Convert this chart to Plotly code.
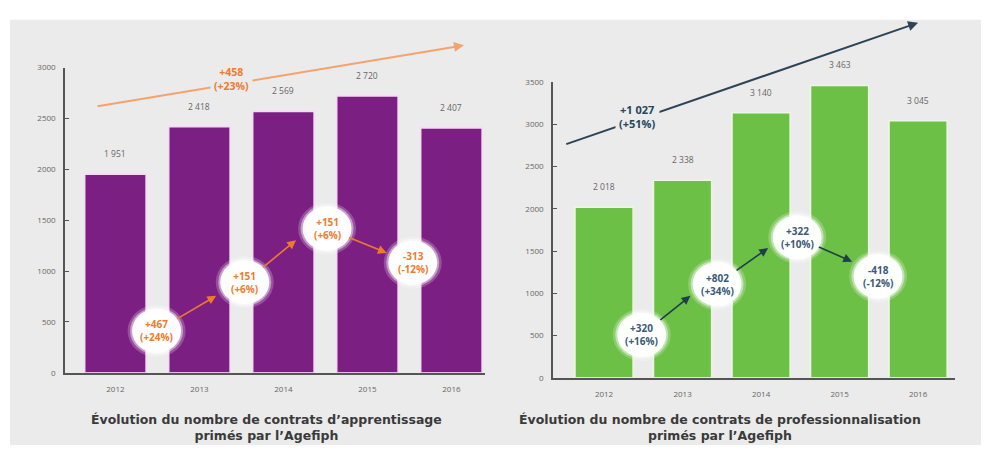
import plotly.graph_objects as go

# ---------------- data ----------------
years = ["2012", "2013", "2014", "2015", "2016"]
apprentissage = [1951, 2418, 2569, 2720, 2407]
professionnalisation = [2018, 2338, 3140, 3463, 3045]

appr_changes = ["+467<br>(+24%)", "+151<br>(+6%)", "+151<br>(+6%)", "-313<br>(-12%)"]
pro_changes = ["+320<br>(+16%)", "+802<br>(+34%)", "+322<br>(+10%)", "-418<br>(-12%)"]
appr_total = "+458<br>(+23%)"
pro_total = "+1 027<br>(+51%)"

left_yticks = [0, 500, 1000, 1500, 2000, 2500, 3000]
right_yticks = [0, 500, 1000, 1500, 2000, 2500, 3000, 3500]

title_left = "Évolution du nombre de contrats d’apprentissage<br>primés par l’Agefiph"
title_right = "Évolution du nombre de contrats de professionnalisation<br>primés par l’Agefiph"

# ---------------- styles ----------------
PURPLE = "#7b1f83"
GREEN = "#6cc046"
ORANGE = "#f07a2c"
ORANGE_LINE = "#f3a36c"
DARK = "#2c4455"
BG = "#ebebeb"
AXIS = "#555555"
FONT = "Open Sans"

OFF = 8            # browser body margin
W, H = 989 - OFF, 450 - OFF

def px(x):
    return (x - OFF) / W

def py(y):
    return (H - (y - OFF)) / H

def fmt(v):
    return f"{v:,}".replace(",", " ")

idx = list(range(len(years)))

fig = go.Figure()
fig.add_trace(go.Bar(x=idx, y=apprentissage, xaxis="x", yaxis="y",
                     marker=dict(color=PURPLE, line=dict(color="#f6d9f5", width=1.5)),
                     width=0.73, showlegend=False, hovertext=years, hoverinfo="text+y"))
fig.add_trace(go.Bar(x=idx, y=professionnalisation, xaxis="x2", yaxis="y2",
                     marker=dict(color=GREEN, line=dict(color="#eef7e4", width=1.5)),
                     width=0.74, showlegend=False, hovertext=years, hoverinfo="text+y"))

axis_common = dict(showgrid=False, zeroline=False, showline=True, linecolor=AXIS,
                   linewidth=1.5, tickfont=dict(family=FONT, size=8, color="#666"),
                   ticks="inside", ticklen=4, tickcolor=AXIS, ticklabelstandoff=6)
xaxis_common = {**axis_common, "ticks": "", "tickvals": idx, "ticktext": years,
                "ticklabelstandoff": 8}

fig.update_layout(
    width=W, height=H, autosize=False,
    margin=dict(l=0, r=0, t=0, b=0),
    paper_bgcolor="white", plot_bgcolor="rgba(0,0,0,0)",
    font=dict(family=FONT),
    xaxis=dict(domain=[px(65), px(485)], range=[-0.6, 4.4], anchor="y", **xaxis_common),
    yaxis=dict(domain=[py(376), py(63)], range=[0, 3000],
               tickvals=left_yticks, anchor="x", **axis_common),
    xaxis2=dict(domain=[px(553), px(955)], range=[-0.65, 4.47], anchor="y2", **xaxis_common),
    yaxis2=dict(domain=[py(381), py(78)], range=[0, 3500],
                tickvals=right_yticks, anchor="x2", **axis_common),
)

shapes = [dict(type="rect", xref="paper", yref="paper", x0=px(10), x1=1,
               y0=0, y1=py(14), fillcolor=BG, line=dict(width=0), layer="below")]
annotations = []

# value labels above bars
for xa, ya, vals in (("x", "y", apprentissage), ("x2", "y2", professionnalisation)):
    for i, v in zip(idx, vals):
        annotations.append(dict(x=i, y=v, xref=xa, yref=ya, text=fmt(v), showarrow=False,
                                yanchor="bottom", yshift=13,
                                font=dict(family=FONT, size=8.5, color="#666")))

def chain(xa, ya, bubbles, heads, texts, col, linecol):
    for i in range(len(bubbles) - 1):
        bx, by = bubbles[i]
        hx, hy = heads[i]
        annotations.append(dict(x=hx, y=hy, ax=bx, ay=by, xref=xa, yref=ya,
                                axref=xa, ayref=ya, showarrow=True, arrowhead=2,
                                arrowsize=1.1, arrowwidth=1.6, arrowcolor=linecol,
                                startstandoff=22, text=""))
    for (bx, by), t in zip(bubbles, texts):
        for sz, c in ((58, "rgba(255,255,255,0.22)"), (53, "rgba(255,255,255,0.45)"),
                      (49, "rgba(255,255,255,0.97)")):
            shapes.append(dict(type="circle", xref=xa, yref=ya,
                               xsizemode="pixel", ysizemode="pixel",
                               xanchor=bx, yanchor=by,
                               x0=-sz / 2, x1=sz / 2, y0=-sz * 0.45, y1=sz * 0.45,
                               fillcolor=c, line=dict(width=0), layer="above"))
        annotations.append(dict(x=bx, y=by, xref=xa, yref=ya, text="<b>" + t + "</b>",
                                showarrow=False,
                                font=dict(family=FONT, size=10, color=col)))

chain("x", "y",
      bubbles=[(0.49, 412), (1.54, 891), (2.52, 1418), (3.54, 1083)],
      heads=[(1.2, 757), (2.15, 1304), (3.23, 1179)],
      texts=appr_changes, col=ORANGE, linecol=ORANGE)
chain("x2", "y2",
      bubbles=[(0.48, 508), (1.44, 1109), (2.46, 1663), (3.49, 1201)],
      heads=[(1.1, 970), (2.09, 1536), (3.16, 1375)],
      texts=pro_changes, col="#3b5a78", linecol="#1f3d4a")

# big trend arrows with labels
annotations.append(dict(x=4.15, y=3220, ax=-0.23, ay=2617, xref="x", yref="y",
                        axref="x", ayref="y", showarrow=True, arrowhead=2, arrowsize=1,
                        arrowwidth=2, arrowcolor=ORANGE_LINE, text=""))
annotations.append(dict(x=1.38, y=2885, xref="x", yref="y", text="<b>" + appr_total + "</b>",
                        showarrow=False, bgcolor=BG, borderpad=3,
                        font=dict(family=FONT, size=10.5, color=ORANGE)))
annotations.append(dict(x=4.0, y=4205, ax=-0.5, ay=2761, xref="x2", yref="y2",
                        axref="x2", ayref="y2", showarrow=True, arrowhead=2, arrowsize=1,
                        arrowwidth=2, arrowcolor=DARK, text=""))
annotations.append(dict(x=0.43, y=3096, xref="x2", yref="y2", text="<b>" + pro_total + "</b>",
                        showarrow=False, bgcolor=BG, borderpad=3,
                        font=dict(family=FONT, size=11, color="#24465a")))

# titles
for xc, t in ((266, title_left), (720, title_right)):
    annotations.append(dict(x=px(xc), y=py(432), xref="paper", yref="paper",
                            xanchor="center", yanchor="middle",
                            text="<b>" + t + "</b>", showarrow=False, align="center",
                            font=dict(family="DejaVu Sans", size=12.5, color="#3a3a3a")))

fig.update_layout(shapes=shapes, annotations=annotations)
fig.write_html("out.html")
